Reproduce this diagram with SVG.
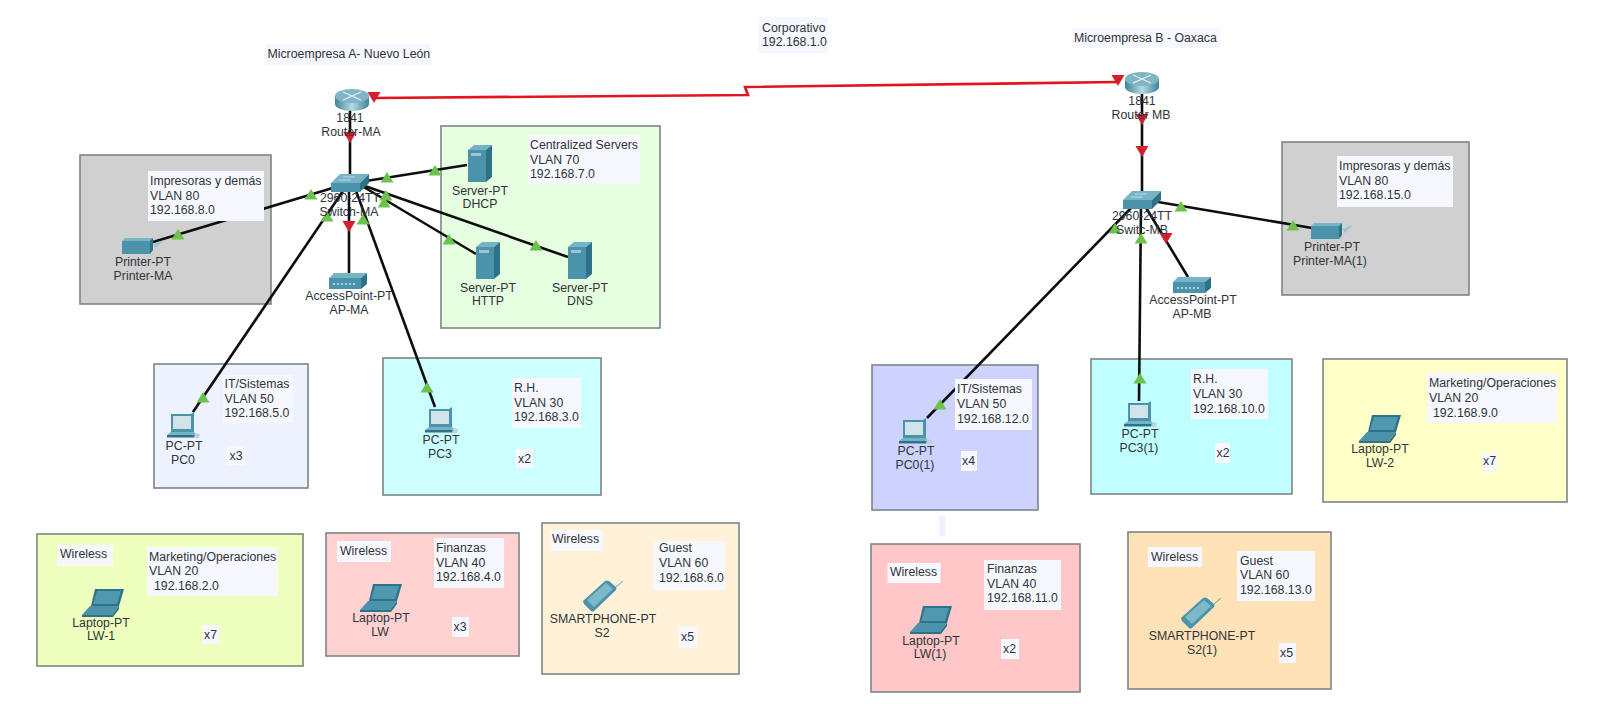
<svg xmlns="http://www.w3.org/2000/svg" xmlns:xlink="http://www.w3.org/1999/xlink" width="1600" height="704" viewBox="0 0 1600 704">
<style>
text{font-family:"Liberation Sans",Arial,sans-serif;font-size:12.3px;fill:#2f333a}
.c{text-anchor:middle}
.zone{stroke:#7c8585;stroke-width:1.6}
.lb{fill:#f7f8ff}
.link{fill:none;stroke:#0d0d0d;stroke-width:2.6}
.wan{fill:none;stroke:#e3131f;stroke-width:2.6}
.teal{fill:#4b93aa}.dk{fill:#2f7287}.lt{fill:#74b4c6}
</style>
<defs>
<path id="g" d="M0-6 6.500 4.500H-6.500Z" fill="#6cc24a"/>
<path id="r" d="M-6.500-6H6.500L0 5Z" fill="#d4202e"/>
<linearGradient id="rg" x1="0" x2="1" y1="0" y2="0"><stop offset="0" stop-color="#3d8398"/><stop offset=".5" stop-color="#b5dbe2"/><stop offset="1" stop-color="#3d8398"/></linearGradient>
<symbol id="router" width="34" height="22" overflow="visible">
<path d="M0 7V15C0 19 8 22 17 22S34 19 34 15V7Z" fill="url(#rg)"/>
<ellipse cx="17" cy="7" rx="17" ry="7" fill="#7fb5c4"/>
<path d="M8 3 26 11M26 3 8 11" stroke="#e8f4f7" stroke-width="1.3"/>
</symbol>
<symbol id="switch" width="38" height="18" overflow="visible">
<path d="M9 0H38L29 9H0Z" class="lt"/><path d="M0 9H29V18H0Z" class="teal"/><path d="M29 9 38 0V9L29 18Z" class="dk"/>
<path d="M12 3H24M8 6H20" stroke="#cfe6ec" stroke-width=".8"/>
</symbol>
<symbol id="server" width="24" height="37" overflow="visible">
<path d="M0 5 6 0H24L18 5Z" class="lt"/><path d="M0 5H18V37H0Z" class="teal"/><path d="M18 5 24 0V32L18 37Z" class="dk"/>
<path d="M3 8H13V11H3Z" fill="#9cc6d2"/>
</symbol>
<symbol id="printer" width="38" height="16" overflow="visible">
<path d="M3 0H31L29 3H0Z" class="lt"/><path d="M0 3H28V16H0Z" class="teal"/><path d="M28 3 31 0V12L28 16Z" class="dk"/>
<path d="M31 6 42 2 34 10Z" fill="#9cc6d2"/>
</symbol>
<symbol id="ap" width="38" height="16" overflow="visible">
<path d="M5 0H38L32 5H0Z" class="lt"/><path d="M0 5H32V16H0Z" class="teal"/><path d="M32 5 38 0V11L32 16Z" class="dk"/>
<path d="M4 11H28" stroke="#cfe6ec" stroke-width="1.500" stroke-dasharray="2 2"/>
</symbol>
<symbol id="pc" width="33" height="26" overflow="visible">
<path d="M4 2H24L27 0V20H4Z" class="teal"/><path d="M6 4H24V17H6Z" fill="#cfe3e8"/>
<path d="M4 20H27L30 23H0Z" class="lt"/><path d="M0 23H30V25.500H0Z" class="dk"/>
<path d="M28 21 33 22 32 26H27Z" fill="#b9d3da"/>
</symbol>
<symbol id="laptop" width="42" height="28" overflow="visible">
<path d="M13 0H42L37 17H9Z" class="dk"/><path d="M15 2H39L35 15H11Z" fill="#4f98ae"/>
<path d="M8 17H37L30 26H0Z" class="teal"/><path d="M0 26H30L37 17V20L31 28H0Z" class="dk"/>
</symbol>
<symbol id="phone" width="42" height="32" overflow="visible">
<path d="M0 21 22 1Q24 0 26 1L33 7Q34 9 33 10L11 31Q9 32 8 31L1 24Q0 22 0 21Z" class="teal"/>
<path d="M4 20 23 3 30 9 11 27Z" fill="#7db9c9"/>
<path d="M33 7 40 1" stroke="#6b9fae" stroke-width="1"/>
</symbol>
</defs>
<rect width="1600" height="704" fill="#fff"/>
<g id="zones">
<rect class="zone" x="80" y="155" width="191" height="149" fill="#d0d0d0"/>
<rect class="zone" x="441" y="126" width="219" height="202" fill="#e6ffe0"/>
<rect class="zone" x="154" y="364" width="154" height="124" fill="#eef2ff"/>
<rect class="zone" x="383" y="358" width="218" height="137" fill="#ccffff"/>
<rect class="zone" x="37" y="534" width="266" height="132" fill="#eeffbe"/>
<rect class="zone" x="326" y="533" width="193" height="123" fill="#ffd2d2"/>
<rect class="zone" x="542" y="523" width="197" height="151" fill="#fff2d9"/>
<rect class="zone" x="1282" y="142" width="187" height="153" fill="#d0d0d0"/>
<rect class="zone" x="872" y="365" width="166" height="145" fill="#cdd2ff"/>
<rect class="zone" x="1091" y="359" width="201" height="135" fill="#bfffff"/>
<rect class="zone" x="1323" y="359" width="244" height="143" fill="#ffffc8"/>
<rect class="zone" x="871" y="544" width="209" height="148" fill="#ffc7c7"/>
<rect class="zone" x="1128" y="532" width="203" height="157" fill="#ffe2b8"/>
<rect x="939" y="516" width="6" height="20" fill="#eef1ff"/>
</g>
<g id="connectors">
<path class="wan" d="M374 98 748 95 745 87 1118 82"/>
<path class="link" d="M350 108V176"/>
<path class="link" d="M366 181 467 165"/>
<path class="link" d="M362 186 476 254"/>
<path class="link" d="M362 185 568 257"/>
<path class="link" d="M336 187 153 242"/>
<path class="link" d="M349 190V273"/>
<path class="link" d="M345 188 193 412"/>
<path class="link" d="M355 188 435 407"/>
<path class="link" d="M1142 90V194"/>
<path class="link" d="M1158 202 1312 228"/>
<path class="link" d="M1145 206 1188 277"/>
<path class="link" d="M1134 205 927 418"/>
<path class="link" d="M1141 205 1139 401"/>
<use href="#r" x="374" y="98"/><use href="#r" x="1118" y="81"/>
<use href="#r" x="350" y="138"/><use href="#r" x="349" y="227"/>
<use href="#r" x="1142" y="120"/><use href="#r" x="1142" y="152"/><use href="#r" x="1166" y="239"/>
<use href="#g" x="387" y="178"/><use href="#g" x="435" y="171"/>
<use href="#g" x="386" y="196"/><use href="#g" x="384" y="203"/>
<use href="#g" x="449" y="240"/><use href="#g" x="536" y="246"/>
<use href="#g" x="311" y="195"/><use href="#g" x="178" y="235"/>
<use href="#g" x="327" y="217"/><use href="#g" x="203" y="398"/>
<use href="#g" x="363" y="220"/><use href="#g" x="427" y="388"/>
<use href="#g" x="1181" y="207"/><use href="#g" x="1293" y="226"/>
<use href="#g" x="1115" y="229"/><use href="#g" x="940" y="405"/>
<use href="#g" x="1141" y="239"/><use href="#g" x="1140" y="379"/>
</g>
<g id="labels">
<rect class="lb" x="265" y="44" width="166" height="21"/><text x="267.500" y="58">Microempresa A- Nuevo León</text>
<rect class="lb" x="758" y="17" width="70" height="36"/><text x="762" y="31.500">Corporativo</text><text x="762" y="46">192.168.1.0</text>
<rect class="lb" x="1072" y="28" width="148" height="20"/><text x="1074" y="42">Microempresa B - Oaxaca</text>
<rect class="lb" x="148" y="171" width="116" height="50"/><text x="150" y="184.500">Impresoras y demás</text><text x="150" y="199.500">VLAN 80</text><text x="150" y="214">192.168.8.0</text>
<rect class="lb" x="528" y="135" width="112" height="49"/><text x="530" y="149">Centralized Servers</text><text x="530" y="163.500">VLAN 70</text><text x="530" y="178">192.168.7.0</text>
<rect class="lb" x="1337" y="156" width="116" height="51"/><text x="1339" y="170">Impresoras y demás</text><text x="1339" y="184.500">VLAN 80</text><text x="1339" y="199">192.168.15.0</text>
<rect class="lb" x="223" y="375" width="70" height="48"/><text x="224.500" y="388">IT/Sistemas</text><text x="224.500" y="403">VLAN 50</text><text x="224.500" y="417">192.168.5.0</text>
<rect class="lb" x="227" y="446" width="18" height="19"/><text x="229.500" y="459.500">x3</text>
<rect class="lb" x="512" y="378" width="69" height="50"/><text x="514" y="392">R.H.</text><text x="514" y="407">VLAN 30</text><text x="514" y="421">192.168.3.0</text>
<rect class="lb" x="516" y="449" width="17" height="19"/><text x="518" y="463">x2</text>
<rect class="lb" x="147" y="547" width="131" height="49"/><text x="149" y="560.500">Marketing/Operaciones</text><text x="149" y="575">VLAN 20</text><text x="154" y="590">192.168.2.0</text>
<rect class="lb" x="202" y="625" width="17" height="19"/><text x="204" y="639">x7</text>
<rect class="lb" x="57" y="545" width="56" height="21"/><text x="60" y="558">Wireless</text>
<rect class="lb" x="434" y="538" width="70" height="50"/><text x="436" y="552">Finanzas</text><text x="436" y="567">VLAN 40</text><text x="436" y="581">192.168.4.0</text>
<rect class="lb" x="337" y="541" width="54" height="21"/><text x="340" y="555">Wireless</text>
<rect class="lb" x="452" y="617" width="17" height="20"/><text x="453.500" y="631">x3</text>
<rect class="lb" x="653" y="541" width="72" height="49"/><text x="659" y="552">Guest</text><text x="659" y="567">VLAN 60</text><text x="659" y="582">192.168.6.0</text>
<rect class="lb" x="550" y="530" width="53" height="21"/><text x="552" y="543">Wireless</text>
<rect class="lb" x="679" y="627" width="18" height="21"/><text x="681" y="641">x5</text>
<rect class="lb" x="955" y="379" width="77" height="51"/><text x="957" y="393">IT/Sistemas</text><text x="957" y="408">VLAN 50</text><text x="957" y="423">192.168.12.0</text>
<rect class="lb" x="961" y="451" width="16" height="20"/><text x="962" y="465">x4</text>
<rect class="lb" x="1191" y="369" width="77" height="50"/><text x="1193" y="383">R.H.</text><text x="1193" y="398">VLAN 30</text><text x="1193" y="413">192.168.10.0</text>
<rect class="lb" x="1215" y="443" width="15" height="20"/><text x="1216.500" y="457">x2</text>
<rect class="lb" x="1427" y="373" width="130" height="50"/><text x="1429" y="387">Marketing/Operaciones</text><text x="1429" y="402">VLAN 20</text><text x="1433" y="417">192.168.9.0</text>
<rect class="lb" x="1482" y="452" width="15" height="20"/><text x="1483" y="465">x7</text>
<rect class="lb" x="984" y="560" width="77" height="50"/><text x="987" y="573">Finanzas</text><text x="987" y="588">VLAN 40</text><text x="987" y="602">192.168.11.0</text>
<rect class="lb" x="887.500" y="563" width="53" height="20"/><text x="890" y="576">Wireless</text>
<rect class="lb" x="1001" y="639" width="18" height="20"/><text x="1003" y="653">x2</text>
<rect class="lb" x="1237" y="551" width="78" height="50"/><text x="1240" y="564.500">Guest</text><text x="1240" y="579">VLAN 60</text><text x="1240" y="594">192.168.13.0</text>
<rect class="lb" x="1148" y="547" width="54" height="20"/><text x="1151" y="561">Wireless</text>
<rect class="lb" x="1279" y="643" width="17" height="20"/><text x="1280" y="657">x5</text>
</g>
<g id="Router-MA"><use href="#router" x="335" y="89"/><text class="c" x="350" y="122">1841</text><text class="c" x="351" y="136">Router-MA</text></g>
<g id="Switch-MA"><use href="#switch" x="331" y="174"/><text class="c" x="350" y="202">2960-24TT</text><text class="c" x="349" y="216">Switch-MA</text></g>
<g id="Printer-MA"><use href="#printer" x="122" y="238"/><text class="c" x="143" y="265.500">Printer-PT</text><text class="c" x="143" y="280">Printer-MA</text></g>
<g id="AP-MA"><use href="#ap" x="329" y="273"/><text class="c" x="349" y="300">AccessPoint-PT</text><text class="c" x="349" y="314">AP-MA</text></g>
<g id="DHCP"><use href="#server" x="468" y="145"/><text class="c" x="480" y="194.500">Server-PT</text><text class="c" x="480" y="208">DHCP</text></g>
<g id="HTTP"><use href="#server" x="476" y="242"/><text class="c" x="488" y="291.500">Server-PT</text><text class="c" x="488" y="305">HTTP</text></g>
<g id="DNS"><use href="#server" x="568" y="242"/><text class="c" x="580" y="291.500">Server-PT</text><text class="c" x="580" y="305">DNS</text></g>
<g id="PC0"><use href="#pc" x="167" y="412"/><text class="c" x="184" y="450">PC-PT</text><text class="c" x="183" y="464">PC0</text></g>
<g id="PC3"><use href="#pc" x="425" y="407"/><text class="c" x="441" y="444">PC-PT</text><text class="c" x="440" y="458">PC3</text></g>
<g id="LW-1"><use href="#laptop" x="82" y="589"/><text class="c" x="101" y="627">Laptop-PT</text><text class="c" x="101" y="640">LW-1</text></g>
<g id="LW"><use href="#laptop" x="360" y="584"/><text class="c" x="381" y="622">Laptop-PT</text><text class="c" x="380" y="636">LW</text></g>
<g id="S2"><use href="#phone" x="583" y="580"/><text class="c" x="603" y="622.500">SMARTPHONE-PT</text><text class="c" x="602" y="637">S2</text></g>
<g id="Router-MB"><use href="#router" x="1125" y="72"/><text class="c" x="1142" y="105">1841</text><text class="c" x="1141" y="119">Router MB</text></g>
<g id="Switch-MB"><use href="#switch" x="1123" y="191"/><text class="c" x="1142" y="220">2960-24TT</text><text class="c" x="1142" y="234">Switc-MB</text></g>
<g id="Printer-MA1"><use href="#printer" x="1311" y="223"/><text class="c" x="1332" y="251">Printer-PT</text><text class="c" x="1330" y="265">Printer-MA(1)</text></g>
<g id="AP-MB"><use href="#ap" x="1173" y="277"/><text class="c" x="1193" y="304">AccessPoint-PT</text><text class="c" x="1192" y="318">AP-MB</text></g>
<g id="PC0-1"><use href="#pc" x="899" y="418"/><text class="c" x="916" y="455">PC-PT</text><text class="c" x="915" y="469">PC0(1)</text></g>
<g id="PC3-1"><use href="#pc" x="1124" y="401"/><text class="c" x="1140" y="438">PC-PT</text><text class="c" x="1139" y="452">PC3(1)</text></g>
<g id="LW-2"><use href="#laptop" x="1359" y="415"/><text class="c" x="1380" y="453">Laptop-PT</text><text class="c" x="1380" y="467">LW-2</text></g>
<g id="LW-1b"><use href="#laptop" x="910" y="606"/><text class="c" x="931" y="645">Laptop-PT</text><text class="c" x="930" y="658">LW(1)</text></g>
<g id="S2-1"><use href="#phone" x="1181" y="597"/><text class="c" x="1202" y="640">SMARTPHONE-PT</text><text class="c" x="1202" y="654">S2(1)</text></g>
</svg>
